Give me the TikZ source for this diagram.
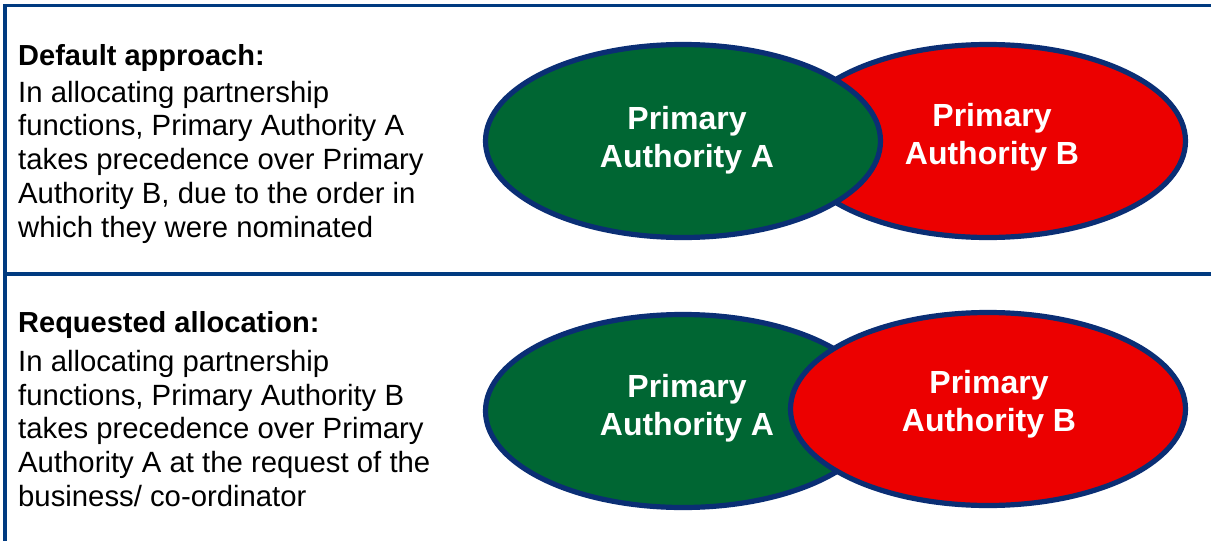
\documentclass[tikz,border=0pt]{standalone}
\usepackage{fontspec}
\setmainfont{Liberation Sans}
\usetikzlibrary{shapes.geometric}
\definecolor{frameblue}{RGB}{0,58,128}
\definecolor{rimblue}{RGB}{10,46,116}
\definecolor{pagreen}{RGB}{0,102,51}
\definecolor{pared}{RGB}{236,0,0}
\tikzset{
  frame/.style={draw=frameblue, line width=3.8pt},
  authority/.style={ellipse, draw=rimblue, line width=5.2pt, minimum width=395pt, minimum height=193pt, inner sep=0pt},
  agreen/.style={authority, fill=pagreen},
  ared/.style={authority, fill=pared},
  alabel/.style={text=white, font=\fontsize{32}{38}\selectfont\bfseries, align=center, inner sep=0pt},
  heading/.style={anchor=base west, inner sep=0pt, font=\fontsize{29}{34}\selectfont\bfseries},
  body/.style={anchor=base west, inner sep=0pt, font=\fontsize{29.3}{34}\selectfont},
}
\begin{document}
\begin{tikzpicture}[x=1pt,y=-1pt]
\useasboundingbox (0,0) rectangle (1211,541);
\fill[white] (0,0) rectangle (1211,541);
% frame
\coordinate (fbl) at (5,541);
\coordinate (ftl) at (5,5.5);
\coordinate (ftr) at (1211,5.5);
\coordinate (fml) at (5,274);
\coordinate (fmr) at (1211,274);
\draw[frame] (fbl) -- (ftl) -- (ftr);
\draw[frame] (fml) -- (fmr);

% row 1: default approach
\node[heading] (h1) at (18,65) {Default approach:};
\foreach \t [count=\i from 0] in {In allocating partnership,{functions, Primary Authority A},takes precedence over Primary,{Authority B, due to the order in},which they were nominated}
  \node[body] (d\i) at (18,102+33.8*\i) {\t};

\node[ared] (rb1) at (988,141) {};
\node[agreen] (ga1) at (683,141) {};
\node[alabel] (la1) at (687,140) {Primary\\Authority A};
\node[alabel] (lb1) at (992,137) {Primary\\Authority B};

% row 2: requested allocation
\node[heading] (h2) at (18,332) {Requested allocation:};
\foreach \t [count=\i from 0] in {In allocating partnership,{functions, Primary Authority B},takes precedence over Primary,Authority A at the request of the,business/ co-ordinator}
  \node[body] (r\i) at (18,371.5+33.7*\i) {\t};

\node[agreen] (ga2) at (683,411) {};
\node[ared] (rb2) at (988,409) {};
\node[alabel] (la2) at (687,408) {Primary\\Authority A};
\node[alabel] (lb2) at (989,404) {Primary\\Authority B};
\end{tikzpicture}
\end{document}
